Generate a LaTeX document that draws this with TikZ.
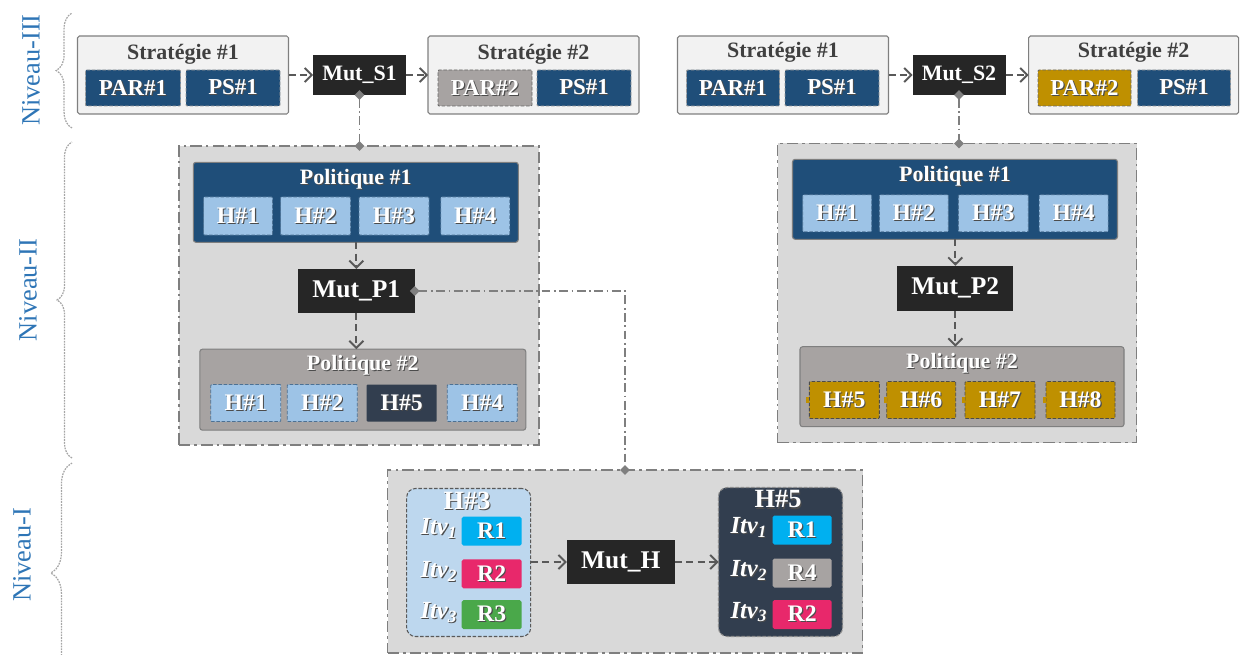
\documentclass[tikz,border=0pt]{standalone}
\usepackage{fontspec}
\setmainfont{Liberation Serif}
\usetikzlibrary{arrows.meta,decorations.pathreplacing,calc}
\definecolor{lgrey}{HTML}{F2F2F2}
\definecolor{bgrey}{HTML}{7F7F7F}
\definecolor{dblue}{HTML}{1F4E79}
\definecolor{hblue}{HTML}{9DC3E6}
\definecolor{wgrey}{HTML}{A7A3A2}
\definecolor{slate}{HTML}{323E4F}
\definecolor{gold}{HTML}{BF9000}
\definecolor{mutc}{HTML}{262626}
\definecolor{lvlc}{HTML}{D9D9D9}
\definecolor{paleblue}{HTML}{BDD7EE}
\definecolor{rcyan}{HTML}{00B0F0}
\definecolor{rpink}{HTML}{E8286B}
\definecolor{rgreen}{HTML}{4AA84A}
\definecolor{lblue}{HTML}{2E75B6}
\definecolor{txtd}{HTML}{404040}
\definecolor{arrc}{HTML}{595959}
\newcommand{\shd}[1]{\leavevmode\rlap{\kern0.6pt\raisebox{-0.6pt}{\color{black!70}#1}}#1}
\newcommand{\fsz}[1]{\fontsize{#1}{#1}\selectfont}
\begin{document}
\begin{tikzpicture}[x=0.02cm,y=-0.02cm,
  sz/.style 2 args={minimum width=#1*0.02cm,minimum height=#2*0.02cm},
  base/.style={rectangle,inner sep=0pt,outer sep=0pt},
  stratbox/.style={base,fill=lgrey,draw=bgrey,line width=0.6pt,rounded corners=1pt},
  strattitle/.style={text=txtd,font=\bfseries\fsz{12.5}},
  tag/.style={base,line width=0.5pt,dash pattern=on 2pt off 1pt,rounded corners=0.5pt,text=white,font=\bfseries\fsz{13}},
  partag/.style={tag,fill=dblue,draw=black!40},
  pargrey/.style={tag,fill=wgrey,draw=black!60},
  pargold/.style={tag,fill=gold,draw=black!60},
  htag/.style={tag,fill=hblue,draw=dblue!80,font=\bfseries\fsz{13.5}},
  hslate/.style={base,fill=slate,text=white,font=\bfseries\fsz{13.5},rounded corners=0.5pt},
  hgold/.style={tag,fill=gold,draw=black!70,font=\bfseries\fsz{13.5}},
  mutbox/.style={base,fill=mutc,text=white,font=\bfseries\fsz{12.5}},
  mutbig/.style={mutbox,font=\bfseries\fsz{14.5}},
  lvlbox/.style={base,fill=lvlc,draw=bgrey,line width=1.1pt,dash pattern=on 6.5pt off 2.3pt on 1.5pt off 2.3pt},
  polbox/.style={base,draw=bgrey,line width=0.6pt,rounded corners=1.5pt},
  poltitle/.style={text=white,font=\bfseries\fsz{12.5},inner sep=0pt},
  itvbox/.style={base,line width=0.6pt,draw=arrc,dash pattern=on 2pt off 1pt,rounded corners=5pt},
  itvtitle/.style={text=white,font=\bfseries\fsz{15},inner sep=0pt},
  rtag/.style={base,text=white,font=\bfseries\fsz{13.5},rounded corners=1pt},
  itv/.style={text=white,font=\bfseries\itshape\fsz{14},anchor=east,inner sep=0pt},
  arr/.style={draw=arrc,line width=1.1pt,dash pattern=on 4pt off 2.5pt,-{Straight Barb[length=4pt,width=8pt]}},
  link/.style={draw=bgrey,line width=0.8pt,dash pattern=on 5pt off 2pt on 1pt off 2pt,{Diamond[length=5.5pt,width=5.5pt]}-{Diamond[length=5.5pt,width=5.5pt]},shorten <=-2.75pt,shorten >=-2.75pt},
  bracec/.style={draw=black!35,line width=0.7pt,dash pattern=on 1pt off 0.6pt,decorate},
  lvltxt/.style={text=lblue,font=\fsz{15},rotate=90,inner sep=0pt}
]
\useasboundingbox (0,0) rectangle (1240,655);

% ---------- level labels and braces
\node[lvltxt] (n3) at (31,70) {Niveau-III};
\node[lvltxt] (n2) at (28,290) {Niveau-II};
\node[lvltxt] (n1) at (22,555) {Niveau-I};
\draw[bracec,decoration={brace,amplitude=9pt}] (72,128) -- (72,13);
\draw[bracec,decoration={brace,amplitude=8.5pt}] (72,458) -- (72,142);
\draw[bracec,decoration={brace,amplitude=12pt}] (72,683) -- (72,463);

% ---------- level boxes
\node[lvlbox,sz={360}{299}] (lvlL) at (359,295.5) {};
\node[lvlbox,sz={359}{299}] (lvlR) at (957,293) {};
\node[lvlbox,sz={475}{183}] (lvlI) at (625,561.5) {};

% ---------- Niveau III, left
\node[stratbox,sz={211}{78}] (s1L) at (183,75) {};
\node[strattitle] (s1Lt) at (183,54) {Stratégie \#1};
\node[partag,sz={95}{36}] (par1L) at (133,88) {\shd{PAR\#1}};
\node[partag,sz={94}{36}] (ps1L) at (233,88) {\shd{PS\#1}};
\node[mutbox,sz={93}{40}] (mutS1) at (359.5,75) {Mut\_S1};
\node[stratbox,sz={211}{78}] (s2L) at (533.5,75) {};
\node[strattitle] (s2Lt) at (533.5,54) {Stratégie \#2};
\node[pargrey,sz={94}{36}] (par2L) at (485,88) {\shd{PAR\#2}};
\node[partag,sz={94}{36}] (ps2L) at (584,88) {\shd{PS\#1}};

% ---------- Niveau III, right
\node[stratbox,sz={211}{78}] (s1R) at (783,75) {};
\node[strattitle] (s1Rt) at (783,52) {Stratégie \#1};
\node[partag,sz={93}{36}] (par1R) at (733,88) {\shd{PAR\#1}};
\node[partag,sz={94}{36}] (ps1R) at (832,88) {\shd{PS\#1}};
\node[mutbox,sz={93}{40}] (mutS2) at (959,75) {Mut\_S2};
\node[stratbox,sz={210}{78}] (s2R) at (1133.6,75) {};
\node[strattitle] (s2Rt) at (1133.6,52) {Stratégie \#2};
\node[pargold,sz={93}{36}] (par2R) at (1084.5,88) {\shd{PAR\#2}};
\node[partag,sz={93}{36}] (ps2R) at (1184,88) {\shd{PS\#1}};

% ---------- Niveau II, left
\node[polbox,fill=dblue,sz={325}{80}] (pol1L) at (355.8,202.3) {};
\node[poltitle] (pol1Lt) at (355.8,180) {\shd{Politique \#1}};
\node[htag,sz={69}{38}] (hL1) at (238,216) {\shd{H\#1}};
\node[htag,sz={70}{38}] (hL2) at (315.5,216) {\shd{H\#2}};
\node[htag,sz={70}{38}] (hL3) at (394,216) {\shd{H\#3}};
\node[htag,sz={69}{38}] (hL4) at (475.3,216) {\shd{H\#4}};
\node[mutbig,sz={117}{44}] (mutP1) at (356.3,291) {Mut\_P1};
\node[polbox,fill=wgrey,sz={326}{81}] (pol2L) at (362.8,389.7) {};
\node[poltitle] (pol2Lt) at (362.8,366) {\shd{Politique \#2}};
\node[htag,sz={70}{37}] (hM1) at (245.8,403) {\shd{H\#1}};
\node[htag,sz={70}{37}] (hM2) at (322.3,403) {\shd{H\#2}};
\node[hslate,sz={70}{37}] (hM5) at (401.7,403) {\shd{H\#5}};
\node[htag,sz={70}{37}] (hM4) at (482.3,403) {\shd{H\#4}};

% ---------- Niveau II, right
\node[polbox,fill=dblue,sz={325}{80}] (pol1R) at (955,199.3) {};
\node[poltitle] (pol1Rt) at (955,177) {\shd{Politique \#1}};
\node[htag,sz={69}{37}] (hR1) at (837.2,213.3) {\shd{H\#1}};
\node[htag,sz={69}{37}] (hR2) at (913.8,213.3) {\shd{H\#2}};
\node[htag,sz={70}{37}] (hR3) at (993.3,213.3) {\shd{H\#3}};
\node[htag,sz={69}{37}] (hR4) at (1073.7,213.3) {\shd{H\#4}};
\node[mutbig,sz={116}{45}] (mutP2) at (955.3,288.3) {Mut\_P2};
\node[polbox,fill=wgrey,sz={324}{80}] (pol2R) at (962,386.7) {};
\node[poltitle] (pol2Rt) at (962,364) {\shd{Politique \#2}};
\node[hgold,sz={70}{37}] (hG5) at (844.3,400) {\shd{H\#5}};
\node[hgold,sz={69}{37}] (hG6) at (921.2,400) {\shd{H\#6}};
\node[hgold,sz={70}{37}] (hG7) at (1000,400) {\shd{H\#7}};
\node[hgold,sz={69}{37}] (hG8) at (1080.5,400) {\shd{H\#8}};
\foreach \g in {hG5,hG6,hG7,hG8}
  \fill[gold] ($(\g.west)+(-3,-3)$) rectangle ($(\g.west)+(0,3)$);

% ---------- Niveau I
\node[itvbox,fill=paleblue,sz={124}{148}] (hb3) at (468.7,562.5) {};
\node[itvtitle] (hb3t) at (467,501) {\shd{H\#3}};
\node[rtag,fill=rcyan,sz={60}{29}] (r1a) at (491.7,531.2) {\shd{R1}};
\node[rtag,fill=rpink,sz={60}{29}] (r2a) at (491.7,573.8) {\shd{R2}};
\node[rtag,fill=rgreen,sz={60}{29}] (r3a) at (491.7,614.7) {\shd{R3}};
\node[itv] (i1a) at ($(r1a.west)+(-4,-2)$) {\shd{Itv\textsubscript{1}}};
\node[itv] (i2a) at ($(r2a.west)+(-4,-2)$) {\shd{Itv\textsubscript{2}}};
\node[itv] (i3a) at ($(r3a.west)+(-4,-2)$) {\shd{Itv\textsubscript{3}}};
\node[mutbig,sz={108}{44}] (mutH) at (620.8,562) {Mut\_H};
\node[itvbox,fill=slate,draw=black!45,sz={124}{149}] (hb5) at (780.5,562) {};
\node[itvtitle] (hb5t) at (778,500) {\shd{H\#5}};
\node[rtag,fill=rcyan,sz={59}{29}] (r1b) at (802.2,530) {\shd{R1}};
\node[rtag,fill=wgrey,sz={59}{29}] (r4b) at (802.2,573) {\shd{R4}};
\node[rtag,fill=rpink,sz={59}{29}] (r2b) at (802.2,614.5) {\shd{R2}};
\node[itv] (i1b) at ($(r1b.west)+(-5,-2)$) {\shd{Itv\textsubscript{1}}};
\node[itv] (i2b) at ($(r4b.west)+(-5,-2)$) {\shd{Itv\textsubscript{2}}};
\node[itv] (i3b) at ($(r2b.west)+(-5,-2)$) {\shd{Itv\textsubscript{3}}};

% ---------- arrows
\draw[arr] (s1L.east |- mutS1.west) -- (mutS1.west);
\draw[arr] (mutS1.east) -- (mutS1.east -| s2L.west);
\draw[arr] (s1R.east |- mutS2.west) -- (mutS2.west);
\draw[arr] (mutS2.east) -- (mutS2.east -| s2R.west);
\draw[arr] (mutP1.north |- pol1L.south) -- (mutP1.north);
\draw[arr] (mutP1.south) -- (mutP1.south |- pol2L.north);
\draw[arr] (mutP2.north |- pol1R.south) -- (mutP2.north);
\draw[arr] (mutP2.south) -- (mutP2.south |- pol2R.north);
\draw[arr] (hb3.east |- mutH.west) -- (mutH.west);
\draw[arr] (mutH.east) -- (mutH.east -| hb5.west);

% ---------- links
\draw[link] (mutS1.south) -- (mutS1.south |- lvlL.north);
\draw[link] (mutS2.south) -- (mutS2.south |- lvlR.north);
\draw[link] (mutP1.east) -| (lvlI.north);
\end{tikzpicture}
\end{document}
